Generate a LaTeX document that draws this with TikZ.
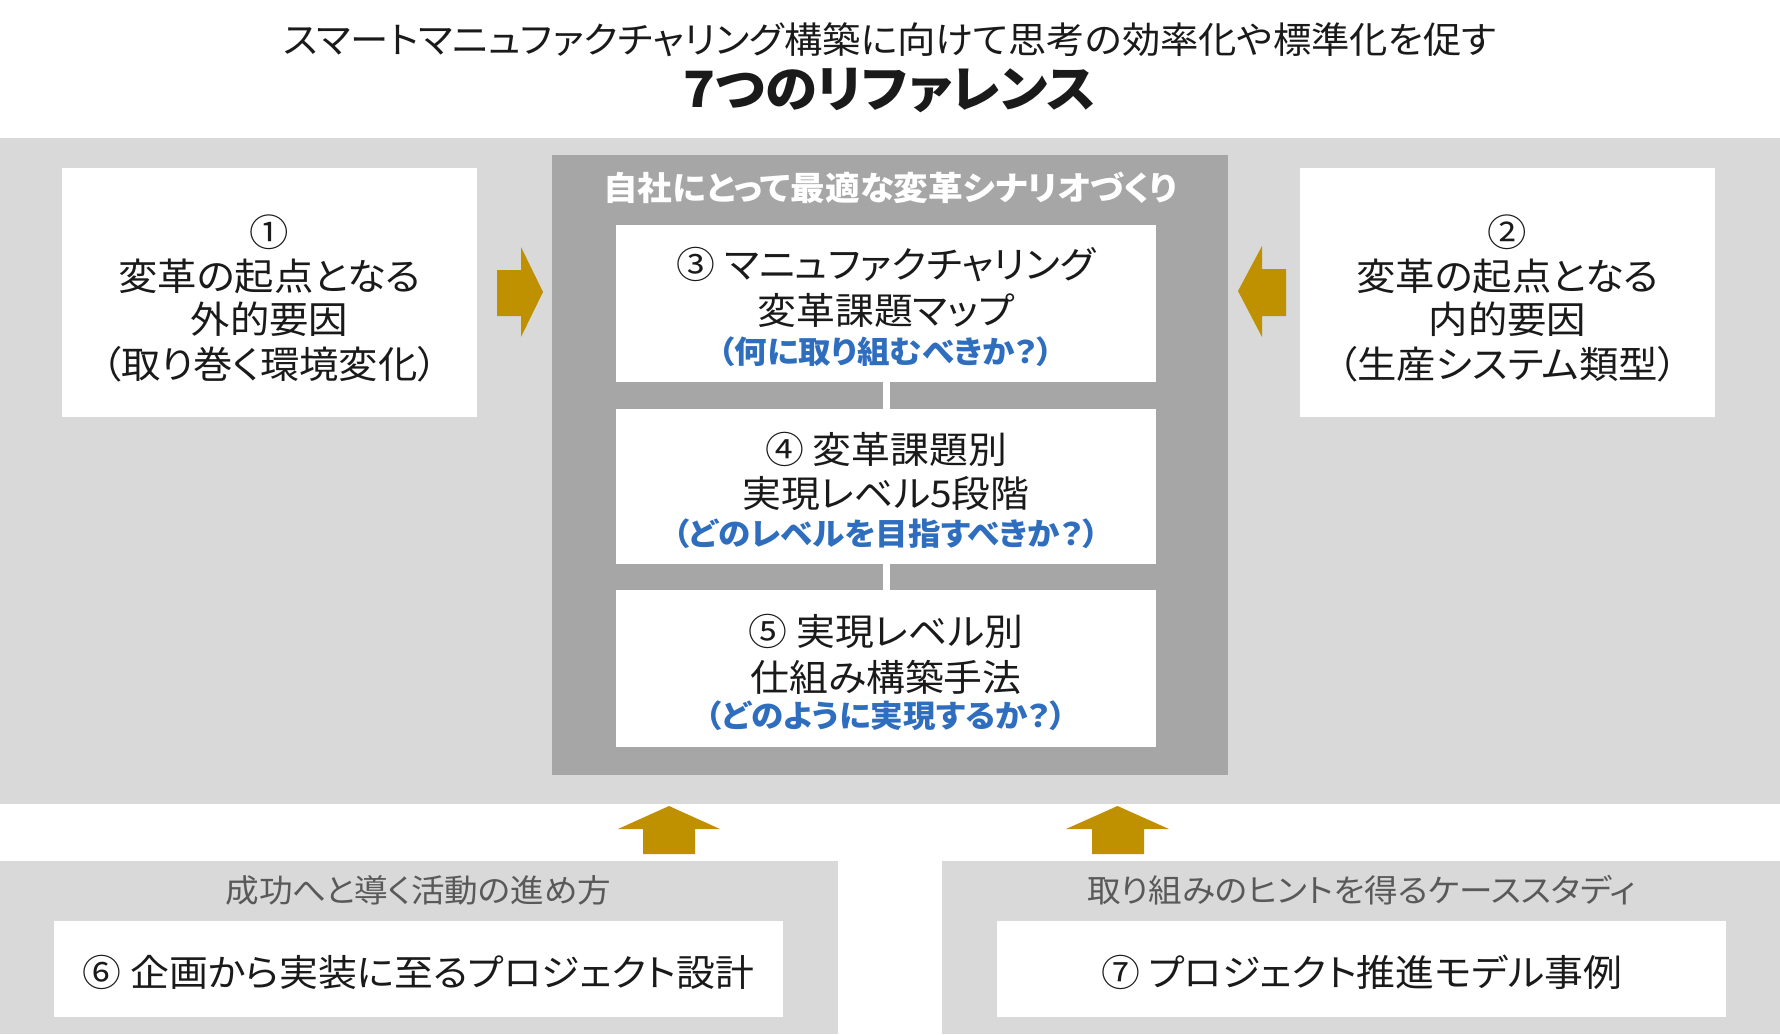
\documentclass[tikz,border=0pt]{standalone}
\usepackage{fontspec}
\setmainfont{Noto Sans CJK JP}[RawFeature=+palt, FakeStretch=1.05]
\definecolor{bandgray}{HTML}{D9D9D9}
\definecolor{boxgray}{HTML}{A6A6A6}
\definecolor{gold}{HTML}{BF9000}
\definecolor{qblue}{HTML}{2F6EBE}
\definecolor{labelgray}{HTML}{595959}
\definecolor{ink}{HTML}{1A1A1A}
\begin{document}
\begin{tikzpicture}[x=1pt,y=-1pt,
  panel/.style={fill=bandgray, draw=none, inner sep=0pt},
  darkpanel/.style={fill=boxgray, draw=none, inner sep=0pt},
  wbox/.style={fill=white, draw=none, inner sep=0pt},
  txt/.style={inner sep=0pt, anchor=center, text=ink, font=\fontsize{37}{44}\selectfont},
  bigtxt/.style={txt, font=\fontsize{37.5}{45}\selectfont},
  bottomtxt/.style={txt, font=\fontsize{37}{44}\selectfont},
  qtxt/.style={inner sep=0pt, anchor=center, text=qblue, font=\bfseries\fontsize{31}{36}\selectfont},
  lbl/.style={inner sep=0pt, anchor=center, text=labelgray, font=\fontsize{32}{37}\selectfont},
  blockarrow/.style={fill=gold, draw=none},
  link/.style={draw=white, line width=7pt}
]
\useasboundingbox (0,0) rectangle (1780,1034);
\fill[white] (0,0) rectangle (1780,1034);

% title
\node[txt, font=\fontsize{36.5}{42}\selectfont] (t1) at (890,40) {スマートマニュファクチャリング構築に向けて思考の効率化や標準化を促す};
\node[txt, font=\bfseries\fontsize{50}{58}\selectfont] (t2) at (890,91) {7つのリファレンス};

% main band
\node[panel, minimum width=1780pt, minimum height=666pt] (band) at (890,471) {};

% central dark box
\node[darkpanel, minimum width=676pt, minimum height=620pt] (core) at (890,465) {};
\node[inner sep=0pt, text=white, font=\bfseries\fontsize{33}{38}\selectfont] (corehead) at (890,188) {自社にとって最適な変革シナリオづくり};

\node[wbox, minimum width=540pt, minimum height=157pt] (b3) at (886,303.5) {};
\node[wbox, minimum width=540pt, minimum height=155pt] (b4) at (886,486.5) {};
\node[wbox, minimum width=540pt, minimum height=157pt] (b5) at (886,668.5) {};
\draw[link] (b3.south) -- (b4.north);
\draw[link] (b4.south) -- (b5.north);

\node[txt] (b3l1) at (886,265) {③ マニュファクチャリング};
\node[txt] (b3l2) at (886,310) {変革課題マップ};
\node[qtxt] (b3l3) at (886,352) {（何に取り組むべきか？）};

\node[txt] (b4l1) at (886,449) {④ 変革課題別};
\node[txt] (b4l2) at (886,494) {実現レベル5段階};
\node[qtxt] (b4l3) at (886,534) {（どのレベルを目指すべきか？）};

\node[txt] (b5l1) at (886,631) {⑤ 実現レベル別};
\node[txt] (b5l2) at (886,677) {仕組み構築手法};
\node[qtxt] (b5l3) at (886,716) {（どのように実現するか？）};

% left box 1
\node[wbox, minimum width=415pt, minimum height=249pt] (b1) at (269.5,292.5) {};
\node[bigtxt] (b1l1) at (269.5,232) {①};
\node[bigtxt] (b1l2) at (269.5,276) {変革の起点となる};
\node[bigtxt] (b1l3) at (269.5,319) {外的要因};
\node[bigtxt] (b1l4) at (269.5,364) {（取り巻く環境変化）};

% right box 2
\node[wbox, minimum width=415pt, minimum height=249pt] (b2) at (1507.5,292.5) {};
\node[bigtxt] (b2l1) at (1507.5,232) {②};
\node[bigtxt] (b2l2) at (1507.5,276) {変革の起点となる};
\node[bigtxt] (b2l3) at (1507.5,319) {内的要因};
\node[bigtxt] (b2l4) at (1507.5,364) {（生産システム類型）};

% side arrows
\fill[blockarrow] (497,270) -- (521,270) -- (521,247) -- (543,292) -- (521,337) -- (521,316) -- (497,316) -- cycle;
\fill[blockarrow] (1286,269) -- (1262,269) -- (1262,246) -- (1238,291) -- (1262,337) -- (1262,316) -- (1286,316) -- cycle;

% up arrows
\fill[blockarrow] (643,854) -- (643,829) -- (618,829) -- (669,806) -- (720,829) -- (695,829) -- (695,854) -- cycle;
\fill[blockarrow] (1092,854) -- (1092,829) -- (1066,829) -- (1117.5,806) -- (1169,829) -- (1144,829) -- (1144,854) -- cycle;

% bottom panels
\node[panel, minimum width=838pt, minimum height=173pt] (p6) at (419,947.5) {};
\node[panel, minimum width=838pt, minimum height=173pt] (p7) at (1361,947.5) {};
\node[lbl] (p6l) at (418.5,890) {成功へと導く活動の進め方};
\node[lbl] (p7l) at (1361.5,890) {取り組みのヒントを得るケーススタディ};
\node[wbox, minimum width=729pt, minimum height=96pt] (b6) at (418.5,969) {};
\node[wbox, minimum width=729pt, minimum height=96pt] (b7) at (1361.5,969) {};
\node[bottomtxt] (b6t) at (418.5,972) {⑥ 企画から実装に至るプロジェクト設計};
\node[bottomtxt] (b7t) at (1361.5,972) {⑦ プロジェクト推進モデル事例};
\end{tikzpicture}
\end{document}
